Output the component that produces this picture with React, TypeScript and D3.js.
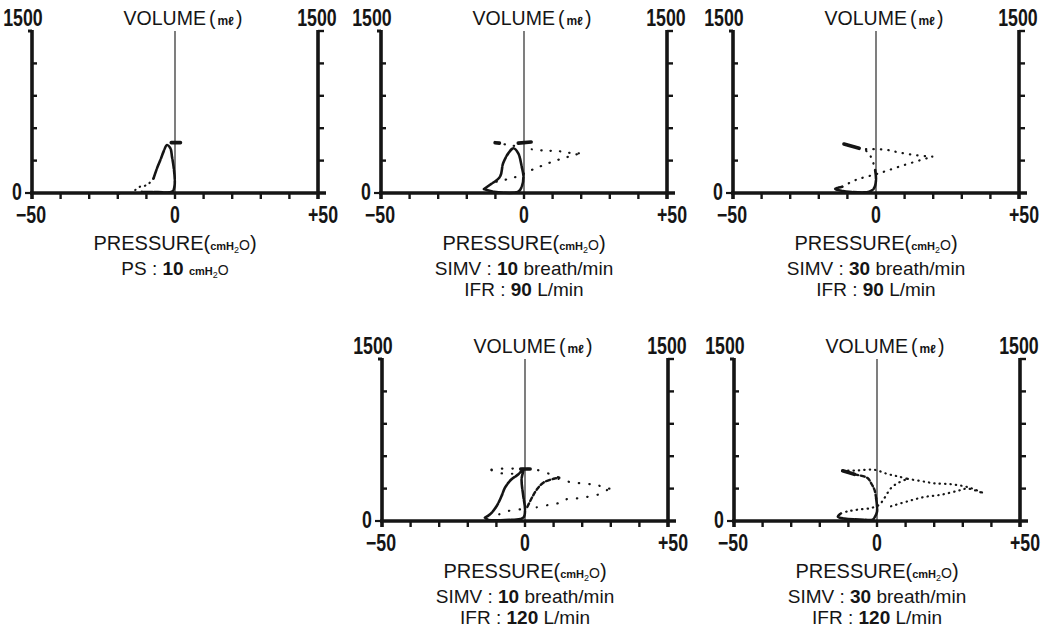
import React from "react";
import * as d3 from "d3";

type Pt = [number, number];

// axis ticks
const pressureTicks = [-50, -40, -30, -20, -10, 0, 10, 20, 30, 40, 50];
const volumeTicks = [0, 300, 600, 900, 1200, 1500];

// PS : 10 cmH2O  — [pressure cmH2O, volume ml]
const psLoop: Pt[] = [[-7.5, 136], [-6.3, 228], [-5.1, 306], [-4, 383], [-2.8, 444], [-1.6, 414], [-1.05, 336], [-0.5, 244], [-0.1, 136], [-0.2, 59], [-1, 12], [-6, 8], [-11.6, 10]];
const psTail: Pt[] = [[-13.9, 28], [-12.2, 59], [-9.8, 74], [-7.5, 136]];
const psMark: Pt[] = [[-1.3, 466], [1.9, 466]];
const psStray: Pt[] = [[-20, -10], [-19.5, -4]];

// SIMV 10 breath/min, IFR 90 L/min
const s10f90Loop: Pt[] = [[-14, 37], [-10.7, 12], [-2, 12], [-0.8, 58], [-0.2, 151], [-0.8, 244], [-2, 367], [-3.7, 414], [-5.5, 367], [-7.3, 275], [-8.4, 151], [-12, 74], [-14, 37]];
const s10f90Top: Pt[] = [[-10.1, 466], [-6.5, 450], [-3.1, 435]];
const s10f90Tip: Pt[] = [[-10.1, 466], [-8.6, 462]];
const s10f90Mark: Pt[] = [[-2, 462], [2.5, 472]];
const s10f90Lower: Pt[] = [[-9.6, 105], [-2.6, 151], [2.7, 213], [10, 290], [19.6, 367]];
const s10f90Upper: Pt[] = [[2.7, 405], [7, 392], [12, 388], [16, 372], [19.6, 367]];

// SIMV 30 breath/min, IFR 90 L/min
const s30f90Dash: Pt[] = [[-11.2, 454], [-5.9, 414]];
const s30f90Curve: Pt[] = [[-5.9, 414], [-3, 382], [-1.3, 305], [-0.3, 213]];
const s30f90Loop: Pt[] = [[-0.3, 213], [0, 120], [-0.7, 43], [-2.4, 12], [-9.4, 12], [-14.3, 37], [-11.8, 58]];
const s30f90Lower: Pt[] = [[-11.8, 58], [-7.1, 120], [1, 182], [10, 260], [19.7, 336]];
const s30f90Upper: Pt[] = [[-3.5, 406], [3.5, 400], [8.1, 375], [14, 350], [19.7, 336]];

// SIMV 10 breath/min, IFR 120 L/min
const s10f120Loop: Pt[] = [[-14, 31], [-12.2, 62], [-9.9, 139], [-8.2, 231], [-7, 309], [-4.7, 386], [-2.3, 432], [-0.6, 479], [-1.2, 386], [-0.6, 231], [0, 108], [-0.6, 31], [-7, 9], [-13, 12], [-14, 31]];
const s10f120TopA: Pt[] = [[-11.7, 475], [-8, 485], [-3, 485], [0, 482]];
const s10f120TopB: Pt[] = [[-11.7, 470], [-8, 441], [-4, 438]];
const s10f120Mark: Pt[] = [[-1.5, 482], [1.8, 482]];
const s10f120InnerUp: Pt[] = [[1, 482], [2.9, 481], [8.7, 435], [11.7, 404]];
const s10f120InnerLow: Pt[] = [[0.8, 130], [2.5, 220], [4.1, 290], [6.4, 355], [10.5, 394], [12, 400]];
const s10f120OuterLow: Pt[] = [[4.1, 127], [8.1, 148], [12.8, 173], [14.9, 205], [18.6, 210], [22.7, 228], [26.2, 250], [28.7, 287]];
const s10f120OuterUp: Pt[] = [[11.7, 390], [15.7, 361], [21.7, 343], [25.2, 333], [28.7, 300], [32.2, 306]];
const s10f120Inside: Pt[] = [[-9, 62], [-5.8, 93], [-1.7, 108]];

// SIMV 30 breath/min, IFR 120 L/min
const s30f120Dash: Pt[] = [[-12, 465], [-7.9, 432]];
const s30f120Curve: Pt[] = [[-7.9, 432], [-3.3, 398], [-2.1, 352], [-0.9, 290], [-0.3, 210]];
const s30f120Loop: Pt[] = [[-0.3, 210], [0, 86], [-0.9, 31], [-1.5, 12], [-6, 14], [-11.4, 22], [-13.7, 40], [-12.6, 71]];
const s30f120Rise: Pt[] = [[-12.6, 71], [-10.2, 90], [-6.8, 105], [-2.1, 120], [0.8, 151], [2.6, 213], [4.9, 305], [7.2, 350], [10.7, 390]];
const s30f120Top: Pt[] = [[-12, 465], [-6.8, 468], [-0.9, 474], [3.7, 435], [7.2, 414], [10.7, 390]];
const s30f120OuterLow: Pt[] = [[4.9, 136], [10.7, 182], [16.5, 222], [22.4, 243], [28.3, 280], [31.7, 300], [36.9, 258]];
const s30f120OuterUp: Pt[] = [[10.7, 390], [16.5, 365], [20, 349], [25.9, 340], [31.7, 314], [36.9, 262]];

type Trace = { pts: Pt[]; kind: "solid" | "dot" | "bold" | "dash" };

const W = 286;
const H = 162;
const INK = "#151515";
const NUM_FONT = "'Liberation Sans', Arial, sans-serif";
const TXT_FONT = "'Liberation Sans', Arial, sans-serif";

const panels: { x: number; y: number; gap: number; traces: Trace[]; mode: string; rate?: string; flow?: string }[] = [
  {
    x: 32, y: 31, gap: 5, mode: "PS",
    traces: [
      { pts: psLoop, kind: "solid" },
      { pts: psTail, kind: "dot" },
      { pts: psMark, kind: "bold" },
      { pts: psStray, kind: "solid" },
    ],
  },
  {
    x: 381, y: 31, gap: 9, mode: "SIMV", rate: "10", flow: "90",
    traces: [
      { pts: s10f90Loop, kind: "solid" },
      { pts: s10f90Top, kind: "dot" },
      { pts: s10f90Tip, kind: "bold" },
      { pts: s10f90Mark, kind: "bold" },
      { pts: s10f90Lower, kind: "dot" },
      { pts: s10f90Upper, kind: "dot" },
    ],
  },
  {
    x: 733, y: 31, gap: 7, mode: "SIMV", rate: "30", flow: "90",
    traces: [
      { pts: s30f90Dash, kind: "bold" },
      { pts: s30f90Curve, kind: "dot" },
      { pts: s30f90Loop, kind: "solid" },
      { pts: s30f90Lower, kind: "dot" },
      { pts: s30f90Upper, kind: "dot" },
    ],
  },
  {
    x: 382, y: 359, gap: 10, mode: "SIMV", rate: "10", flow: "120",
    traces: [
      { pts: s10f120Loop, kind: "solid" },
      { pts: s10f120TopA, kind: "dot" },
      { pts: s10f120TopB, kind: "dot" },
      { pts: s10f120Mark, kind: "bold" },
      { pts: s10f120InnerUp, kind: "dot" },
      { pts: s10f120InnerLow, kind: "dash" },
      { pts: s10f120OuterLow, kind: "dot" },
      { pts: s10f120OuterUp, kind: "dot" },
      { pts: s10f120Inside, kind: "dot" },
    ],
  },
  {
    x: 734, y: 359, gap: 5, mode: "SIMV", rate: "30", flow: "120",
    traces: [
      { pts: s30f120Dash, kind: "bold" },
      { pts: s30f120Curve, kind: "dash" },
      { pts: s30f120Loop, kind: "solid" },
      { pts: s30f120Rise, kind: "dot" },
      { pts: s30f120Top, kind: "dot" },
      { pts: s30f120OuterLow, kind: "dot" },
      { pts: s30f120OuterUp, kind: "dot" },
    ],
  },
];

// condensed bold number, squeezed horizontally like the original lettering
const Num = ({ x, y, children }: { x: number; y: number; children: React.ReactNode }) => (
  <text
    transform={`translate(${x},${y}) scale(0.74,1)`}
    textAnchor="middle"
    fontFamily={NUM_FONT}
    fontWeight="bold"
    fontSize={24}
    fill={INK}
  >
    {children}
  </text>
);

const Sub = () => (
  <>
    <tspan fontSize={11} fontWeight="bold">cmH</tspan>
    <tspan fontSize={9} dy={3}>2</tspan>
    <tspan fontSize={14} dy={-3}>O</tspan>
  </>
);

const Panel = ({ p }: { p: (typeof panels)[number] }) => {
  const x = d3.scaleLinear().domain([-50, 50]).range([0, W]);
  const y = d3.scaleLinear().domain([0, 1500]).range([H, 0]);
  const line = d3.line<Pt>().x((d) => x(d[0])).y((d) => y(d[1])).curve(d3.curveCatmullRom.alpha(0.5));
  const x0 = x(0);
  const top = volumeTicks[volumeTicks.length - 1];

  const width = { bold: 3.6, solid: 2.6, dash: 2.4, dot: 2.2 };
  const dash = { bold: undefined, solid: "9 1.5", dash: "4 2.5", dot: `0.4 ${p.gap}` };

  return (
    <g transform={`translate(${p.x},${p.y})`}>
      {/* zero pressure line */}
      <line x1={x0} x2={x0} y1={0} y2={H} stroke={INK} strokeWidth={1.1} />

      {/* loops */}
      {p.traces.map((t, i) => (
        <path
          key={i}
          d={line(t.pts) || ""}
          fill="none"
          stroke={INK}
          strokeLinecap="round"
          strokeLinejoin="round"
          strokeWidth={width[t.kind]}
          strokeDasharray={dash[t.kind]}
        />
      ))}

      {/* left axis */}
      <line x1={0} x2={0} y1={-1} y2={H + 6} stroke={INK} strokeWidth={3.6} />
      <line x1={-4} x2={0} y1={y(top)} y2={y(top)} stroke={INK} strokeWidth={3} />
      <line x1={-7} x2={0} y1={y(0)} y2={y(0)} stroke={INK} strokeWidth={2.2} />
      {volumeTicks.slice(1, -1).map((v) => (
        <line key={v} x1={0} x2={5} y1={y(v)} y2={y(v)} stroke={INK} strokeWidth={2.4} />
      ))}
      {/* right axis */}
      <line x1={W} x2={W} y1={-1} y2={H + 6} stroke={INK} strokeWidth={3.6} />
      {volumeTicks.slice(1).map((v) => (
        <line key={v} x1={W} x2={W + 6} y1={y(v)} y2={y(v)} stroke={INK} strokeWidth={2.4} />
      ))}
      {/* bottom axis */}
      <line x1={-2} x2={W + 8} y1={H} y2={H} stroke={INK} strokeWidth={3.6} />
      {pressureTicks.slice(1, -1).map((t) => (
        <line key={t} x1={x(t)} x2={x(t)} y1={H} y2={H + 6} stroke={INK} strokeWidth={2.4} />
      ))}

      {/* numbers */}
      <Num x={-9} y={-5}>{top}</Num>
      <Num x={W - 1} y={-5}>{top}</Num>
      <Num x={-15} y={H + 7}>{volumeTicks[0]}</Num>
      <Num x={x(-50) - 1} y={H + 30}>−50</Num>
      <Num x={x0} y={H + 30}>0</Num>
      <Num x={x(50) + 5} y={H + 30}>+50</Num>

      {/* axis titles */}
      <g fontFamily={TXT_FONT} fill={INK} textAnchor="middle">
        <text x={x0 + 8} y={-6} fontSize={19.5}>
          VOLUME<tspan dx={3}>(</tspan>
          <tspan fontSize={12} fontWeight="bold" dx={2}>mℓ</tspan>
          <tspan dx={2}>)</tspan>
        </text>
        <text x={x0} y={H + 57} fontSize={20}>
          PRESSURE(<Sub />)
        </text>
        {p.mode === "PS" ? (
          <text x={x0} y={H + 82} fontSize={19}>
            PS : <tspan fontWeight="bold">10</tspan> <Sub />
          </text>
        ) : (
          <>
            <text x={x0} y={H + 82} fontSize={19}>
              SIMV : <tspan fontWeight="bold">{p.rate}</tspan> breath/min
            </text>
            <text x={x0} y={H + 103} fontSize={19}>
              IFR : <tspan fontWeight="bold">{p.flow}</tspan> L/min
            </text>
          </>
        )}
      </g>
    </g>
  );
};

export default function App() {
  return (
    <svg
      width={1053}
      height={630}
      style={{ position: "absolute", left: 0, top: 0, background: "#fff" }}
    >
      <rect width={1053} height={630} fill="#fff" />
      {panels.map((p, i) => (
        <Panel key={i} p={p} />
      ))}
    </svg>
  );
}
